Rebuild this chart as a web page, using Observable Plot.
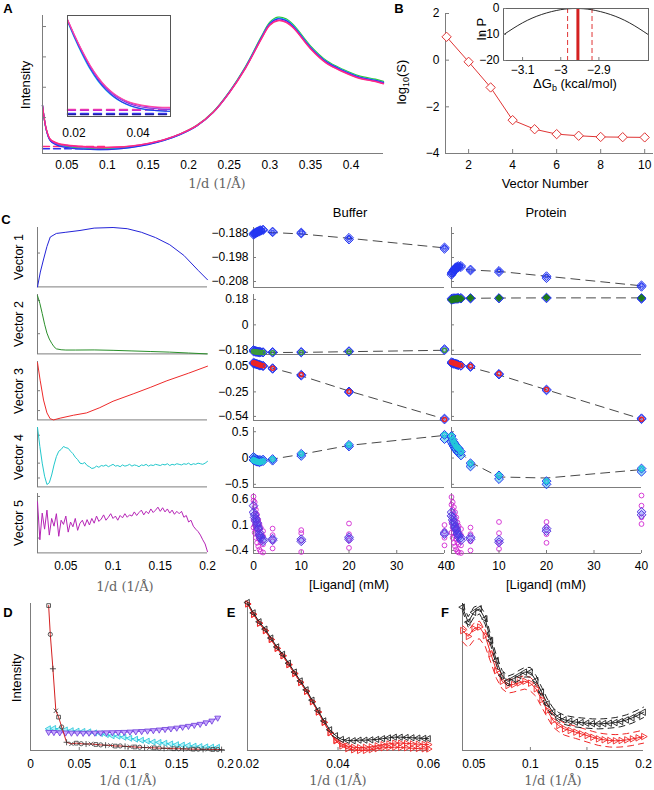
<!DOCTYPE html>
<html><head><meta charset="utf-8">
<script src="https://cdn.jsdelivr.net/npm/d3@7"></script>
<script src="https://cdn.jsdelivr.net/npm/@observablehq/plot@0.6"></script>
<style>
body{margin:0;background:#fff;}
#fig{position:relative;width:654px;height:790px;overflow:hidden;background:#fff;}
</style></head><body><div id="fig"></div>
<script>
// ---------------- DATA ----------------
// Panel A
const aQ = [0.02,0.025,0.03,0.04,0.05,0.07,0.09,0.11,0.13,0.15,0.17,0.19,0.21,0.23,0.25,0.27,0.29,0.30,0.31,0.32,0.33,0.35,0.37,0.39,0.41,0.43,0.44];
const aGreen   = [0.348,0.166,0.094,0.062,0.050,0.038,0.034,0.038,0.049,0.069,0.099,0.142,0.204,0.301,0.447,0.630,0.852,0.952,0.988,0.976,0.926,0.780,0.672,0.610,0.562,0.538,0.522];
const aCyan    = [0.348,0.164,0.091,0.058,0.045,0.033,0.029,0.033,0.045,0.066,0.096,0.139,0.200,0.297,0.443,0.625,0.846,0.945,0.980,0.968,0.919,0.773,0.666,0.604,0.556,0.532,0.516];
const aBlue    = [0.348,0.163,0.090,0.056,0.043,0.031,0.028,0.032,0.044,0.065,0.095,0.138,0.199,0.296,0.442,0.623,0.843,0.941,0.975,0.963,0.914,0.769,0.662,0.601,0.553,0.529,0.513];
const aMagenta = [0.348,0.168,0.098,0.068,0.058,0.047,0.041,0.044,0.054,0.072,0.100,0.142,0.202,0.297,0.440,0.619,0.837,0.933,0.966,0.954,0.906,0.762,0.655,0.595,0.548,0.524,0.508];
const aPink    = [0.348,0.170,0.101,0.072,0.062,0.051,0.045,0.047,0.056,0.074,0.101,0.143,0.202,0.297,0.439,0.617,0.834,0.930,0.962,0.950,0.903,0.759,0.652,0.592,0.545,0.521,0.505];
const aDashQ = [0.02, 0.1];
const aDashLevels = [0.051, 0.034];
const aXTicks = [0.05,0.1,0.15,0.2,0.25,0.3,0.35,0.4];
const aYTicks = [0.26,0.48,0.70,0.92];
// inset A
const aiQ = [0.018,0.02,0.0225,0.025,0.0275,0.03,0.0325,0.035,0.0375,0.04,0.0425,0.045,0.0475,0.05];
const aiCyan    = [0.94,0.79,0.62,0.47,0.35,0.26,0.19,0.14,0.105,0.083,0.068,0.059,0.054,0.051];
const aiBlue    = [0.95,0.80,0.63,0.48,0.36,0.265,0.195,0.143,0.108,0.085,0.07,0.061,0.055,0.052];
const aiPurple  = [0.955,0.81,0.645,0.495,0.375,0.28,0.21,0.16,0.125,0.102,0.088,0.079,0.073,0.07];
const aiMagenta = [0.96,0.815,0.65,0.505,0.385,0.29,0.222,0.172,0.137,0.114,0.1,0.091,0.086,0.083];
const aiPink    = [0.96,0.82,0.655,0.51,0.39,0.295,0.227,0.177,0.142,0.12,0.106,0.097,0.092,0.09];
const aiDashLevels = [0.07, 0.062, 0.03, 0.02];
const aiXTicks = [0.02, 0.04];

// Panel B
const bVec = [1,2,3,4,5,6,7,8,9,10];
const bLogS = [1.0,-0.07,-1.17,-2.57,-2.96,-3.17,-3.24,-3.29,-3.30,-3.31];
const bXTicks = [2,4,6,8,10];
const bYTicks = [-4,-2,0,2];
const bInG = [-3.15,-3.10,-3.05,-3.00,-2.96,-2.92,-2.87,-2.82,-2.77];
const bInLnP = [-10.1,-5.5,-2.3,-0.45,0,-0.45,-2.3,-5.5,-10.1];
const bInBest = [-2.955];
const bInCI = [-2.982, -2.918];
const bInXTicks = [-3.1,-3,-2.9];
const bInYTicks = [0,-10,-20];

// Panel C left: singular vectors
const v1q = [0.02,0.023,0.0265,0.03,0.0335,0.04,0.05,0.065,0.08,0.1,0.115,0.13,0.145,0.16,0.175,0.19,0.2];
const v1  = [0.0,0.25,0.47,0.68,0.84,0.9,0.92,0.95,0.99,1.0,0.98,0.92,0.83,0.71,0.53,0.28,0.12];
const v2q = [0.02,0.0225,0.025,0.0275,0.03,0.0325,0.035,0.0375,0.04,0.045,0.05,0.06,0.08,0.1,0.12,0.14,0.16,0.18,0.2];
const v2  = [0.98,0.85,0.68,0.5,0.35,0.25,0.18,0.12,0.085,0.07,0.065,0.065,0.067,0.06,0.05,0.04,0.03,0.015,0.0];
const v3q = [0.02,0.0228,0.0264,0.03,0.0334,0.037,0.044,0.058,0.072,0.086,0.1,0.122,0.14,0.157,0.18,0.2];
const v3  = [0.98,0.68,0.34,0.12,0.02,0.0,0.03,0.08,0.12,0.21,0.32,0.45,0.56,0.67,0.80,0.92];
const qGrid = [0.02,0.0225,0.025,0.0275,0.03,0.0325,0.035,0.0375,0.04,0.0425,
 0.045,0.0475,0.05,0.0525,0.055,0.0575,0.06,0.0625,0.065,0.0675,
 0.07,0.0725,0.075,0.0775,0.08,0.0825,0.085,0.0875,0.09,0.0925,
 0.095,0.0975,0.1,0.1025,0.105,0.1075,0.11,0.1125,0.115,0.1175,
 0.12,0.1225,0.125,0.1275,0.13,0.1325,0.135,0.1375,0.14,0.1425,
 0.145,0.1475,0.15,0.1525,0.155,0.1575,0.16,0.1625,0.165,0.1675,
 0.17,0.1725,0.175,0.1775,0.18,0.1825,0.185,0.1875,0.19,0.1925,
 0.195,0.1975,0.2];
const v4 = [1.0,0.68,0.40,0.18,0.04,0.07,0.20,0.37,0.51,0.60,
 0.63,0.68,0.66,0.65,0.60,0.56,0.50,0.46,0.40,0.39,
 0.41,0.36,0.34,0.31,0.32,0.35,0.33,0.36,0.35,0.37,
 0.34,0.36,0.38,0.35,0.36,0.34,0.37,0.35,0.36,0.38,
 0.35,0.37,0.36,0.34,0.37,0.36,0.38,0.35,0.37,0.36,
 0.38,0.37,0.36,0.38,0.37,0.39,0.36,0.38,0.37,0.39,
 0.38,0.37,0.39,0.38,0.40,0.37,0.39,0.38,0.40,0.39,
 0.38,0.40,0.43];
const v5 = [0.86,0.22,0.67,0.40,0.72,0.30,0.58,0.45,0.66,0.28,
 0.55,0.48,0.62,0.35,0.52,0.44,0.58,0.38,0.50,0.55,
 0.45,0.56,0.47,0.58,0.50,0.62,0.53,0.57,0.64,0.55,
 0.60,0.66,0.58,0.62,0.55,0.63,0.59,0.66,0.60,0.64,
 0.62,0.69,0.63,0.68,0.72,0.64,0.70,0.66,0.74,0.68,
 0.72,0.77,0.70,0.76,0.69,0.74,0.67,0.72,0.65,0.70,
 0.66,0.70,0.60,0.63,0.52,0.55,0.45,0.40,0.36,0.30,
 0.22,0.15,0.02];
const cLeftXTicks = [0.05,0.1,0.15,0.2];

// Panel C middle/right: projections vs ligand concentration
const conc = [0,0.25,0.5,0.75,1,1.25,1.5,2,4,10,20,40];
const fitConc = [0,1,2,4,10,20,40];
const ligTicks = [0,10,20,30,40];
const b1  = [-0.1885,-0.1882,-0.1879,-0.1876,-0.1873,-0.1871,-0.1869,-0.1866,-0.1875,-0.1876,-0.1898,-0.1938];
const b1r = [-0.1880,-0.1878,-0.1875,-0.1872,-0.1870,-0.1868,-0.1866,-0.1864,-0.1872,-0.1880,-0.1905,-0.1944];
const b1fit = [-0.1874,-0.1874,-0.1875,-0.1876,-0.1882,-0.1900,-0.1940];
const p1  = [-0.2045,-0.2038,-0.2030,-0.2024,-0.2020,-0.2018,-0.2016,-0.2015,-0.2034,-0.2036,-0.2058,-0.2096];
const p1r = [-0.2052,-0.2044,-0.2036,-0.2030,-0.2026,-0.2023,-0.2021,-0.2020,-0.2030,-0.2041,-0.2066,-0.2102];
const p1fit = [-0.2032,-0.2028,-0.2027,-0.2032,-0.2038,-0.2058,-0.2098];
const b2  = [-0.188,-0.190,-0.192,-0.193,-0.194,-0.195,-0.195,-0.196,-0.197,-0.195,-0.190,-0.180];
const b2r = [-0.178,-0.182,-0.185,-0.188,-0.190,-0.191,-0.192,-0.193,-0.192,-0.192,-0.186,-0.172];
const b2fit = [-0.194,-0.195,-0.196,-0.196,-0.195,-0.190,-0.180];
const p2  = [0.178,0.180,0.182,0.183,0.184,0.185,0.186,0.186,0.190,0.190,0.193,0.190];
const p2r = [0.185,0.187,0.188,0.189,0.189,0.190,0.190,0.191,0.186,0.187,0.188,0.184];
const p2fit = [0.183,0.185,0.186,0.188,0.190,0.191,0.191];
const b3  = [0.095,0.090,0.085,0.080,0.075,0.070,0.066,0.060,0.030,-0.048,-0.245,-0.576];
const b3r = [0.085,0.082,0.078,0.073,0.068,0.064,0.060,0.053,0.022,-0.058,-0.255,-0.565];
const b3fit = [0.085,0.072,0.058,0.030,-0.060,-0.240,-0.570];
const p3  = [0.100,0.095,0.090,0.085,0.080,0.075,0.070,0.063,0.053,-0.037,-0.222,-0.572];
const p3r = [0.090,0.086,0.082,0.078,0.074,0.070,0.066,0.058,0.045,-0.045,-0.232,-0.562];
const p3fit = [0.095,0.082,0.068,0.040,-0.050,-0.225,-0.570];
const b4  = [-0.04,-0.05,-0.06,-0.07,-0.07,-0.08,-0.07,-0.06,-0.02,0.08,0.25,0.44];
const b4r = [0.02,0.00,-0.02,-0.03,-0.04,-0.04,-0.04,-0.03,-0.05,0.04,0.22,0.36];
const b4fit = [-0.05,-0.05,-0.04,-0.02,0.07,0.24,0.43];
const p4  = [0.42,0.35,0.30,0.26,0.22,0.20,0.18,0.12,-0.10,-0.33,-0.44,-0.20];
const p4r = [0.30,0.26,0.22,0.18,0.15,0.12,0.10,0.05,-0.16,-0.40,-0.50,-0.26];
const p4fit = [0.38,0.22,0.10,-0.08,-0.36,-0.38,-0.22];
const b5  = [0.35,0.25,0.18,0.10,0.05,-0.05,-0.12,-0.18,-0.17,-0.18,-0.14,-0.05];
const b5r = [0.48,0.30,0.22,0.14,0.02,-0.10,-0.16,-0.22,-0.20,-0.22,-0.18,-0.08];
const b5c1 = [0.66,0.55,0.40,0.30,0.20,0.12,0.05,-0.02,0.03,0.00,0.13,0.10];
const b5c2 = [0.58,0.45,0.32,0.22,0.12,0.02,-0.05,-0.12,-0.10,-0.06,-0.08,-0.02];
const b5c3 = [0.20,0.10,0.02,-0.05,-0.12,-0.18,-0.24,-0.28,-0.22,-0.20,-0.20,-0.15];
const b5c4 = [0.05,-0.05,-0.15,-0.25,-0.32,-0.38,-0.42,-0.44,-0.36,-0.43,-0.35,-0.30];
const p5  = [0.28,0.20,0.12,0.05,0.00,-0.05,-0.10,-0.15,-0.14,-0.19,-0.02,0.36];
const p5r = [0.35,0.25,0.16,0.08,0.02,-0.08,-0.14,-0.20,-0.18,-0.24,0.03,0.30];
const p5c1 = [0.65,0.55,0.45,0.35,0.25,0.15,0.08,0.02,0.05,0.16,0.16,0.68];
const p5c2 = [0.50,0.40,0.30,0.20,0.10,0.02,-0.05,-0.10,-0.08,-0.06,0.06,0.48];
const p5c3 = [0.15,0.05,-0.05,-0.12,-0.18,-0.24,-0.28,-0.30,-0.22,-0.25,-0.08,0.25];
const p5c4 = [-0.05,-0.15,-0.25,-0.32,-0.38,-0.42,-0.44,-0.45,-0.40,-0.37,-0.25,0.12];
const cRowTicks = [[-0.188,-0.198,-0.208],[0.18,0,-0.18],[0.05,-0.25,-0.54],[0.5,0,-0.5],[0.6,0.1,-0.4]];
const cRowDomains = [[-0.2105,-0.1855],[-0.21,0.215],[-0.588,0.109],[-0.56,0.58],[-0.46,0.72]];
const cLeftTicks = [[0.57],[0.34,0.9],[0.16,0.5],[0.15,0.4,0.87],[0.25,0.95]];
const vectorNames = ["Vector 1","Vector 2","Vector 3","Vector 4","Vector 5"];

// Panel D
const dRq = [0.0186,0.0203,0.023,0.026,0.0288,0.032,0.037,0.042,0.047,0.052,0.057,0.062,0.067,0.072,0.077,0.082,0.087,0.092,0.097,0.102,0.107,0.112,0.117,0.122,0.127,0.132,0.137,0.142,0.147,0.152,0.157,0.162,0.167,0.172,0.177,0.182,0.187,0.192,0.196];
const dRed = [0.986,0.79,0.556,0.27,0.227,0.16,0.056,0.045,0.05,0.046,0.044,0.045,0.041,0.038,0.036,0.035,0.03,0.031,0.028,0.026,0.024,0.022,0.02,0.019,0.018,0.016,0.015,0.014,0.012,0.012,0.011,0.01,0.009,0.009,0.008,0.008,0.007,0.007,0.006];
const dq = [0.0186,0.024,0.03,0.036,0.042,0.048,0.054,0.06,0.066,0.072,0.078,0.084,0.09,0.096,0.102,0.108,0.114,0.12,0.126,0.132,0.138,0.144,0.15,0.156,0.162,0.168,0.174,0.18,0.186,0.192];
const dCyan = [0.148,0.15,0.145,0.14,0.135,0.132,0.13,0.127,0.12,0.115,0.108,0.1,0.097,0.09,0.083,0.077,0.07,0.064,0.058,0.055,0.05,0.045,0.04,0.037,0.034,0.03,0.027,0.025,0.023,0.022];
const dPurple = [0.125,0.124,0.122,0.121,0.12,0.12,0.119,0.12,0.12,0.121,0.122,0.123,0.124,0.125,0.127,0.129,0.131,0.134,0.137,0.141,0.145,0.149,0.154,0.16,0.166,0.173,0.18,0.19,0.202,0.222];
const dXTicks = [0,0.05,0.1,0.15,0.2];

// Panel E
const eq = [0.02,0.0213,0.0226,0.0239,0.0252,0.0265,0.0278,0.0291,0.0304,0.0317,0.033,0.0343,0.0356,0.0369,0.0382,0.0395,0.0408,0.0421,0.0434,0.0447,0.046,0.0473,0.0486,0.0499,0.0512,0.0525,0.0538,0.0551,0.0564,0.0577,0.059,0.06];
const eBlack = [1.0,0.93,0.87,0.82,0.76,0.70,0.65,0.59,0.53,0.47,0.41,0.34,0.27,0.20,0.14,0.10,0.075,0.068,0.066,0.07,0.07,0.072,0.075,0.08,0.085,0.09,0.09,0.088,0.086,0.084,0.082,0.08];
const eRed1 = [0.99,0.92,0.86,0.81,0.75,0.69,0.64,0.58,0.52,0.46,0.40,0.33,0.26,0.19,0.12,0.07,0.045,0.03,0.022,0.02,0.022,0.025,0.032,0.04,0.045,0.05,0.05,0.048,0.045,0.043,0.041,0.04];
const eRed2 = [0.99,0.92,0.86,0.81,0.75,0.69,0.64,0.58,0.52,0.46,0.40,0.33,0.26,0.19,0.12,0.065,0.03,0.012,0.004,0.0,0.0,0.005,0.012,0.018,0.02,0.022,0.02,0.018,0.015,0.013,0.011,0.01];
const eXTicks = [0.02,0.04,0.06];

// Panel F
const fq = [0.04,0.045,0.05,0.055,0.06,0.065,0.07,0.075,0.08,0.085,0.09,0.095,0.1,0.105,0.11,0.115,0.12,0.125,0.13,0.135,0.14,0.145,0.15,0.155,0.16,0.165,0.17,0.175,0.18,0.185,0.19,0.195,0.2];
const fBlack   = [0.975,0.873,0.94,0.964,0.896,0.748,0.612,0.51,0.47,0.488,0.51,0.533,0.533,0.476,0.397,0.317,0.26,0.227,0.209,0.2,0.193,0.19,0.186,0.183,0.181,0.183,0.186,0.19,0.197,0.208,0.222,0.24,0.26];
const fBlackHi = [1.0,0.91,0.975,0.99,0.93,0.78,0.645,0.545,0.505,0.52,0.545,0.565,0.565,0.51,0.43,0.35,0.29,0.258,0.24,0.232,0.225,0.222,0.218,0.215,0.214,0.216,0.219,0.224,0.232,0.243,0.258,0.276,0.295];
const fBlackLo = [0.95,0.84,0.905,0.93,0.86,0.715,0.58,0.478,0.44,0.455,0.476,0.5,0.5,0.443,0.365,0.285,0.23,0.196,0.178,0.168,0.16,0.156,0.152,0.149,0.147,0.149,0.152,0.156,0.162,0.173,0.186,0.204,0.224];
const fRed     = [0.816,0.776,0.828,0.84,0.782,0.658,0.544,0.471,0.442,0.449,0.46,0.471,0.458,0.42,0.345,0.272,0.204,0.17,0.147,0.136,0.125,0.113,0.102,0.09,0.079,0.073,0.068,0.066,0.068,0.072,0.079,0.086,0.095];
const fRedHi   = [0.85,0.815,0.865,0.88,0.82,0.7,0.585,0.51,0.48,0.487,0.498,0.51,0.497,0.46,0.385,0.312,0.244,0.21,0.187,0.176,0.165,0.153,0.142,0.13,0.12,0.114,0.11,0.108,0.11,0.115,0.122,0.13,0.14];
const fRedLo   = [0.74,0.70,0.75,0.76,0.71,0.6,0.49,0.42,0.39,0.397,0.408,0.418,0.405,0.368,0.295,0.225,0.16,0.128,0.105,0.093,0.082,0.07,0.058,0.046,0.035,0.029,0.024,0.022,0.024,0.028,0.034,0.042,0.05];
const fXTicks = [0.05,0.1,0.15,0.2];

// ---------------- HELPERS ----------------
const fig = document.getElementById("fig");
const GRAY = "#7d7d7d";
const FONT = "Liberation Sans, Arial, Helvetica, sans-serif";
const SERIF = '"DejaVu Serif","Liberation Serif",serif';
const BLUE = "#2436f2";
const minus = d => (d < 0 ? "\u2212" : "") + Math.abs(d);
const pts = (xs, ys) => xs.map((x, i) => ({x, y: ys[i]}));

function mk(f, xd, yd, marks, m = {}) {
  const ml = m.l ?? 45, mr = m.r ?? 10, mt = m.t ?? 8, mb = m.b ?? 24;
  const w = f[1] - f[0], h = f[3] - f[2];
  const svg = Plot.plot({
    width: w + ml + mr, height: h + mt + mb,
    marginLeft: ml, marginRight: mr, marginTop: mt, marginBottom: mb,
    x: {domain: xd, axis: null}, y: {domain: yd, axis: null},
    style: {fontFamily: FONT, fontSize: "12px", color: "#000", background: "transparent", overflow: "visible"},
    marks
  });
  svg.style.position = "absolute";
  svg.style.left = (f[0] - ml) + "px";
  svg.style.top = (f[2] - mt) + "px";
  fig.appendChild(svg);
  return svg;
}
const lineL = xd => Plot.ruleX([xd[0]], {stroke: GRAY, strokeWidth: 1});
const lineB = yd => Plot.ruleY([yd[0]], {stroke: GRAY, strokeWidth: 1});
const tickInX = (t, n = 4) => Plot.axisX(t, {anchor: "bottom", tickSize: -n, tickFormat: () => "", stroke: GRAY, label: null});
const tickInY = (t, n = 4) => Plot.axisY(t, {anchor: "left", tickSize: -n, tickFormat: () => "", stroke: GRAY, label: null});
const labX = (t, pad = 7) => Plot.axisX(t, {anchor: "bottom", tickSize: 0, tickPadding: pad, tickFormat: minus, label: null, fontSize: 12, fill: "#000"});
const labY = (t, pad = 5) => Plot.axisY(t, {anchor: "left", tickSize: 0, tickPadding: pad, tickFormat: minus, label: null, fontSize: 12, fill: "#000"});
const ln = (xs, ys, o) => Plot.line(pts(xs, ys), {x: "x", y: "y", ...o});
const dt = (xs, ys, o) => Plot.dot(pts(xs, ys), {x: "x", y: "y", ...o});

function lab(html, x, y, o = {}) {
  const d = document.createElement("div");
  d.innerHTML = html;
  d.style.cssText = `position:absolute;left:${x}px;top:${y}px;white-space:nowrap;line-height:1;` +
    `font-size:${o.size || 12}px;font-family:${o.serif ? SERIF : FONT};color:${o.color || "#000"};` +
    `font-weight:${o.bold ? "bold" : "normal"};transform:translate(-50%,-50%)${o.rot ? " rotate(-90deg)" : ""};`;
  fig.appendChild(d);
}

// ---------------- PANEL A ----------------
const aSeries = [[aGreen,"#2fc42f"],[aCyan,"#22d0e6"],[aBlue,"#3030ee"],[aMagenta,"#cc22cc"],[aPink,"#ff2a80"]];
mk([42, 383, 15, 153], [0.02, 0.44], [0, 1], [
  ...aDashLevels.map((lv, i) => ln(aDashQ, [lv, lv], {stroke: i ? "#3030ee" : "#ff2a80", strokeWidth: 1.4, strokeDasharray: "7,4"})),
  ...aSeries.map(([ys, c]) => ln(aQ, ys, {stroke: c, strokeWidth: 1.3, curve: "catmull-rom"})),
  lineL([0.02]), lineB([0]),
  tickInY(aYTicks),
  labX(aXTicks, 7)
]);
const aiSeries = [[aiCyan,"#22d0e6"],[aiBlue,"#3030ee"],[aiPurple,"#8a3adf"],[aiMagenta,"#cc22cc"],[aiPink,"#ff4aa0"]];
const aiDashColors = ["#ff4aa0","#cc22cc","#3a3aff","#2020a0"];
mk([67, 170, 15, 116], [0.018, 0.0501], [0, 1], [
  Plot.frame({fill: "#fff", stroke: "none"}),
  ...aiDashLevels.map((lv, i) => ln([0.018, 0.0501], [lv, lv], {stroke: aiDashColors[i], strokeWidth: 1.4, strokeDasharray: "8,5"})),
  ...aiSeries.map(([ys, c]) => ln(aiQ, ys, {stroke: c, strokeWidth: 1.1, curve: "catmull-rom"})),
  Plot.frame({stroke: "#555", strokeWidth: 1}),
  labX(aiXTicks, 12)
], {l: 20, r: 20});

// ---------------- PANEL B ----------------
mk([445, 653, 13, 153], [0.95, 10.4], [-4, 2], [
  lineL([0.95]), lineB([-4]),
  tickInX(bXTicks), tickInY(bYTicks),
  labX(bXTicks, 7), labY(bYTicks, 6),
  ln(bVec, bLogS, {stroke: "#e03434", strokeWidth: 1}),
  dt(bVec, bLogS, {symbol: "diamond2", r: 4.2, stroke: "#e03434", fill: "#fff", strokeWidth: 1})
], {l: 30, r: 8});
mk([503, 648, 8, 60], [-3.15, -2.77], [-20, 0], [
  Plot.frame({fill: "#fff", stroke: "none"}),
  Plot.ruleX(bInCI, {stroke: "#e03434", strokeWidth: 1, strokeDasharray: "5,3"}),
  Plot.ruleX(bInBest, {stroke: "#d42020", strokeWidth: 3}),
  ln(bInG, bInLnP, {stroke: "#111", strokeWidth: 0.9, curve: "natural"}),
  Plot.frame({stroke: "#666", strokeWidth: 1}),
  tickInX(bInXTicks, 3), tickInY(bInYTicks, 3),
  labX(bInXTicks, 5), labY(bInYTicks, 4)
], {l: 30, r: 6, t: 6});

// ---------------- PANEL C ----------------
const rowsY = [[227,287],[294,354],[361,420],[427,487],[493,553]];
const vData = [[v1q, v1, "#2424d8"], [v2q, v2, "#2a8f2a"], [v3q, v3, "#ee2a2a"], [qGrid, v4, "#22c8cc"], [qGrid, v5, "#b624b6"]];
rowsY.forEach(([y0, y1], i) => {
  const [xs, ys, c] = vData[i];
  const marks = [
    lineL([0.02]), lineB([0]), tickInY(cLeftTicks[i], 3),
    ln(xs, ys, {stroke: c, strokeWidth: 1})
  ];
  if (i === 4) marks.push(labX(cLeftXTicks, 8));
  mk([37, 207, y0, y1], [0.02, 0.2], [-0.01, 1.0], marks, {l: 10, r: 10, t: 4, b: 24});
  lab(vectorNames[i], 19, (y0 + y1) / 2, {rot: true, size: 12.5});
});

const buf = [
  {v: b1, r: b1r, f: b1fit}, {v: b2, r: b2r, f: b2fit}, {v: b3, r: b3r, f: b3fit},
  {v: b4, r: b4r, f: b4fit}, {v: b5, r: b5r, c: [b5c1, b5c2, b5c3, b5c4]}
];
const pro = [
  {v: p1, r: p1r, f: p1fit}, {v: p2, r: p2r, f: p2fit}, {v: p3, r: p3r, f: p3fit},
  {v: p4, r: p4r, f: p4fit}, {v: p5, r: p5r, c: [p5c1, p5c2, p5c3, p5c4]}
];
function innerStyle(i, isProtein) {
  if (i === 0) return {symbol: "square", r: 1.7, stroke: BLUE, fill: "none", strokeWidth: 1};
  if (i === 1) return isProtein ? {symbol: "diamond2", r: 2.6, fill: "#1d7a1d", stroke: "#1d7a1d"} : {symbol: "circle", r: 2, stroke: "#3a9a3a", fill: "none"};
  if (i === 2) return {symbol: "circle", r: 2, stroke: "#ee2424", fill: "none"};
  if (i === 3) return {symbol: "circle", r: 2.3, stroke: "#22c8d8", fill: "none"};
  return null;
}
function condMarks(d, i, isProtein) {
  const dom = cRowDomains[i];
  const ms = [lineL([0]), lineB([dom[0]]), tickInY(cRowTicks[i], 3)];
  if (d.f) ms.push(ln(fitConc, d.f, {stroke: "#333", strokeWidth: 0.9, strokeDasharray: "9,6"}));
  if (d.c) d.c.forEach(cv => ms.push(dt(conc, cv, {symbol: "circle", r: 2.4, stroke: "#d22ad2", fill: "none", strokeWidth: 0.9})));
  const dFill = i === 3 ? "#3cc4e8" : BLUE;
  const dOp = i === 3 ? 0.55 : 0.18;
  const dStroke = i === 4 ? "#5a3ae0" : BLUE;
  [d.r, d.v].forEach(vals => ms.push(dt(conc, vals, {symbol: "diamond2", r: 4, stroke: dStroke, fill: dFill, fillOpacity: dOp, strokeWidth: 1})));
  const st = innerStyle(i, isProtein);
  if (st) ms.push(dt(conc, d.v, st));
  if (i === 4) ms.push(tickInX(ligTicks, 3), labX(ligTicks, 8));
  if (!isProtein) ms.push(labY(cRowTicks[i], 5));
  return ms;
}
rowsY.forEach(([y0, y1], i) => {
  mk([253, 444, y0, y1], [0, 40], cRowDomains[i], condMarks(buf[i], i, false), {l: 50, r: 10, t: 6, b: 24});
  mk([451, 641, y0, y1], [0, 40], cRowDomains[i], condMarks(pro[i], i, true), {l: 10, r: 12, t: 6, b: 24});
});

// ---------------- PANEL D ----------------
const dSyms = ["square", "circle", "plus", "times"];
mk([30, 225, 603, 750], [0, 0.2], [0, 1], [
  lineL([0]), lineB([0]), tickInX([0.05, 0.1, 0.15], 3),
  labX(dXTicks, 9),
  ln(dq, dCyan, {stroke: "#22d4e4", strokeWidth: 1.2}),
  dt(dq, dCyan, {symbol: "triangle", rotate: -90, r: 2.2, stroke: "#22c4d8", fill: "#b8f4fa", strokeWidth: 0.8}),
  ln(dq, dPurple, {stroke: "#8a46ee", strokeWidth: 1.1}),
  dt(dq, dPurple, {symbol: "triangle", rotate: 180, r: 2.2, stroke: "#6a38d8", fill: "#c8a8ff", strokeWidth: 0.8}),
  ln(dRq, dRed, {stroke: "#d42020", strokeWidth: 1}),
  Plot.dot(pts(dRq, dRed), {x: "x", y: "y", symbol: (d, i) => dSyms[i % 4], r: 2.1, stroke: "#333", fill: "none", strokeWidth: 0.8})
], {l: 10, r: 10, t: 6, b: 26});

// ---------------- PANEL E ----------------
mk([247, 428, 602, 750], [0.02, 0.06], [0, 1], [
  lineL([0.02]), lineB([0]), tickInX([0.04], 3),
  labX(eXTicks, 9),
  ln(eq, eRed2, {stroke: "#f02828", strokeWidth: 1}),
  dt(eq, eRed2, {symbol: "triangle", rotate: 90, r: 2.3, stroke: "#f02828", fill: "none", strokeWidth: 0.9}),
  ln(eq, eRed1, {stroke: "#f02828", strokeWidth: 1}),
  dt(eq, eRed1, {symbol: "triangle", rotate: 90, r: 2.3, stroke: "#f02828", fill: "none", strokeWidth: 0.9}),
  ln(eq, eBlack, {stroke: "#222", strokeWidth: 1}),
  dt(eq, eBlack, {symbol: "triangle", rotate: -90, r: 2.3, stroke: "#222", fill: "none", strokeWidth: 0.9})
], {l: 12, r: 12, t: 6, b: 26});

// ---------------- PANEL F ----------------
mk([462, 643, 603, 750], [0.04, 0.2], [0, 1], [
  lineL([0.04]), lineB([0]), tickInX([0.1, 0.15], 3),
  labX(fXTicks, 9),
  ln(fq, fRedHi, {stroke: "#f02828", strokeWidth: 1, strokeDasharray: "6,5"}),
  ln(fq, fRedLo, {stroke: "#f02828", strokeWidth: 1, strokeDasharray: "6,5"}),
  ln(fq, fRed, {stroke: "#f02828", strokeWidth: 1}),
  dt(fq, fRed, {symbol: "triangle", rotate: 90, r: 2.4, stroke: "#f02828", fill: "none", strokeWidth: 0.9}),
  ln(fq, fBlackHi, {stroke: "#222", strokeWidth: 1, strokeDasharray: "6,5"}),
  ln(fq, fBlackLo, {stroke: "#222", strokeWidth: 1, strokeDasharray: "6,5"}),
  ln(fq, fBlack, {stroke: "#222", strokeWidth: 1}),
  dt(fq, fBlack, {symbol: "triangle", rotate: -90, r: 2.4, stroke: "#222", fill: "none", strokeWidth: 0.9})
], {l: 12, r: 12, t: 6, b: 26});

// ---------------- TEXT LABELS ----------------
const XQ = "1/d (1/\u00C5)";
lab("A", 8, 8, {bold: true, size: 13});
lab("B", 399, 8, {bold: true, size: 13});
lab("C", 6, 219, {bold: true, size: 13});
lab("D", 8, 612, {bold: true, size: 13});
lab("E", 231, 612, {bold: true, size: 13});
lab("F", 445, 612, {bold: true, size: 13});
lab("Intensity", 25, 85, {rot: true, size: 13});
lab(XQ, 217, 183, {serif: true, size: 13, color: "#666"});
lab("log<sub style='font-size:9px'>10</sub>(S)", 403, 82, {rot: true, size: 13});
lab("Vector Number", 545, 183, {size: 13});
lab("ln P", 481, 29, {rot: true, size: 13});
lab("\u0394G<sub style='font-size:9px'>b</sub> (kcal/mol)", 575, 85, {size: 13});
lab("Buffer", 350, 212, {size: 13});
lab("Protein", 546, 212, {size: 13});
lab(XQ, 125, 586, {serif: true, size: 13, color: "#666"});
lab("[Ligand] (mM)", 349, 584, {size: 13});
lab("[Ligand] (mM)", 546, 584, {size: 13});
lab("Intensity", 16, 678, {rot: true, size: 13});
lab(XQ, 128, 780, {serif: true, size: 13, color: "#666"});
lab(XQ, 338, 780, {serif: true, size: 13, color: "#666"});
lab(XQ, 553, 780, {serif: true, size: 13, color: "#666"});
</script>
</body></html>
